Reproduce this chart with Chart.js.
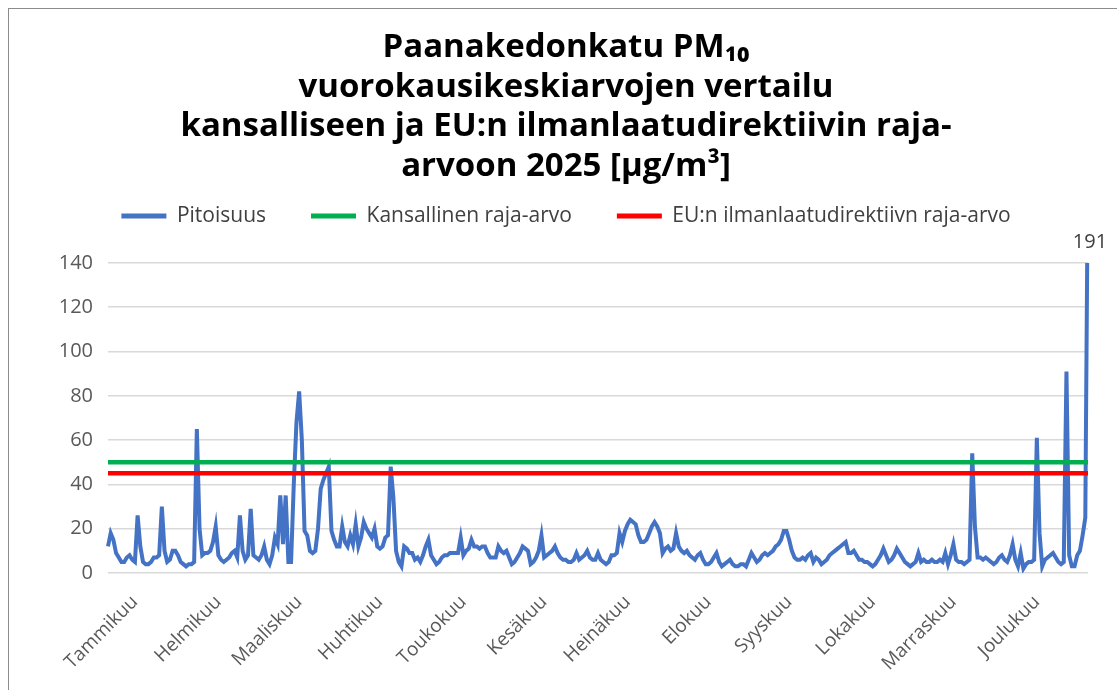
<!DOCTYPE html>
<html lang="fi">
<head>
<meta charset="UTF-8">
<title>Paanakedonkatu PM10 2025</title>
<style>
  html, body { margin: 0; padding: 0; background: #fff; overflow: hidden; }
  #wrap { position: relative; width: 1117px; height: 690px; }
  #frame { position: absolute; left: 8px; top: 8px; right: -10px; bottom: -10px; border: 1px solid #8c8c8c; }
  canvas { position: absolute; left: 0; top: 0; }
</style>
</head>
<body>
<div id="wrap">
  <div id="frame"></div>
  <canvas id="pm10Chart"></canvas>
</div>

<script src="https://cdn.jsdelivr.net/npm/chart.js"></script>
<script>
  // Kuukausien nimet ja päivä (0 = 1.1.) jonka kohdalle nimi piirretään
  const months = ['Tammikuu', 'Helmikuu', 'Maaliskuu', 'Huhtikuu', 'Toukokuu', 'Kesäkuu',
                  'Heinäkuu', 'Elokuu', 'Syyskuu', 'Lokakuu', 'Marraskuu', 'Joulukuu'];
  const monthLabelDays = [10, 41, 71, 101, 132, 162, 193, 223, 253, 284, 314, 345];

  // PM10 vuorokausikeskiarvot 2025 (µg/m³), luettu kuvasta kuukausittain
  const pitoisuus = [
    12,18,15,9,7,5,5,7,8,6,5,26,12,5,4,4,5,7,7,8,30,10,5,6,10,10,8,5,4,3,4,
    4,5,65,20,8,9,9,10,14,21,8,6,5,6,7,9,10,7,26,10,6,8,29,8,7,6,8,12,
    6,4,8,16,13,35,13,35,5,5,40,68,82,60,19,17,10,9,10,20,38,42,45,48,19,15,12,12,21,14,12,
    17,13,22,12,16,23,20,18,16,20,12,11,12,16,17,48,34,10,5,3,12,11,9,9,6,7,5,8,12,15,
    8,6,4,5,7,8,8,9,9,9,9,16,8,10,11,15,12,12,11,12,12,9,7,7,7,12,10,9,10,7,4,
    5,7,9,12,11,10,4,5,7,10,17,7,8,9,10,12,9,7,6,6,5,5,6,9,6,7,8,10,7,6,
    6,9,6,5,4,5,8,8,9,18,14,19,22,24,23,22,17,14,14,15,18,21,23,21,18,9,11,12,10,11,18,
    12,10,9,10,8,7,6,8,9,6,4,4,5,7,9,5,3,4,5,6,4,3,3,4,4,3,6,9,7,5,6,
    8,9,8,9,10,12,13,15,19,19,15,10,7,6,6,7,6,8,9,5,7,6,4,5,6,8,9,10,11,12,
    13,14,9,9,10,8,6,6,5,5,4,3,4,6,8,11,8,5,6,8,11,9,7,5,4,3,4,5,9,5,6,
    5,5,6,5,5,6,5,9,4,8,13,6,5,5,4,5,6,54,21,7,7,6,7,6,5,4,5,7,8,6,
    5,8,13,6,3,9,2,4,5,5,6,61,18,3,6,7,8,9,7,5,4,5,91,8,3,3,8,10,17,25,191
  ];

  const kansallinenRaja = 50;
  const euRaja = 45;

  const seriesNames = ['Pitoisuus', 'Kansallinen raja-arvo', 'EU:n ilmanlaatudirektiivn raja-arvo'];
  const titleLines = ['Paanakedonkatu PM₁₀', 'vuorokausikeskiarvojen vertailu',
                      'kansalliseen ja EU:n ilmanlaatudirektiivin raja-', 'arvoon 2025 [µg/m³]'];
  const yMin = 0, yMax = 140, yStep = 20;

  const dayLabels = pitoisuus.map((v, i) => {
    const m = monthLabelDays.indexOf(i);
    return m >= 0 ? months[m] : '';
  });

  // arvo joka menee akselin yli kirjoitetaan viivan yläpäähän
  const overflowLabel = {
    id: 'overflowLabel',
    afterDatasetsDraw(chart) {
      const meta = chart.getDatasetMeta(0);
      const ctx = chart.ctx;
      ctx.save();
      ctx.font = '20px "Open Sans", sans-serif';
      ctx.fillStyle = '#404040';
      ctx.textAlign = 'center';
      ctx.textBaseline = 'middle';
      pitoisuus.forEach((v, i) => {
        if (v > yMax) {
          ctx.fillText(String(v), meta.data[i].x + 2, chart.chartArea.top - 21);
        }
      });
      ctx.restore();
    }
  };

  Chart.defaults.font.family = '"Open Sans", sans-serif';

  new Chart(document.getElementById('pm10Chart'), {
    type: 'line',
    data: {
      labels: dayLabels,
      datasets: [
        {
          label: seriesNames[0],
          data: pitoisuus,
          borderColor: '#4472C4',
          backgroundColor: '#4472C4',
          borderWidth: 4,
          pointRadius: 0,
          tension: 0,
          order: 3
        },
        {
          label: seriesNames[1],
          data: pitoisuus.map(() => kansallinenRaja),
          borderColor: '#00B050',
          backgroundColor: '#00B050',
          borderWidth: 4.5,
          pointRadius: 0,
          order: 2
        },
        {
          label: seriesNames[2],
          data: pitoisuus.map(() => euRaja),
          borderColor: '#FF0000',
          backgroundColor: '#FF0000',
          borderWidth: 4.5,
          pointRadius: 0,
          order: 1
        }
      ]
    },
    options: {
      responsive: true,
      maintainAspectRatio: false,
      animation: false,
      layout: { padding: { top: 0, left: 44, right: 29, bottom: 0 } },
      plugins: {
        title: {
          display: true,
          text: titleLines,
          color: '#000',
          font: { size: 33, weight: 'bold', lineHeight: 1.2 },
          padding: { top: 28, bottom: -26 }
        },
        subtitle: {
          display: true,
          text: '',
          weight: 500,
          font: { size: 1, lineHeight: 1 },
          padding: { top: 0, bottom: 25.5 }
        },
        legend: {
          labels: {
            boxWidth: 45,
            boxHeight: 5,
            padding: 45,
            color: '#404040',
            font: { size: 21 },
            sort: (a, b) => a.datasetIndex - b.datasetIndex,
            generateLabels(chart) {
              const items = Chart.defaults.plugins.legend.labels.generateLabels(chart);
              items.forEach(it => { it.lineWidth = 0; it.fillStyle = it.strokeStyle; });
              return items;
            }
          }
        },
        tooltip: { enabled: false }
      },
      scales: {
        x: {
          grid: { display: false },
          border: { display: false },
          ticks: {
            autoSkip: false,
            minRotation: 45,
            maxRotation: 45,
            padding: 10,
            color: '#595959',
            font: { size: 19 }
          },
          afterFit(scale) { scale.height = 117; }
        },
        y: {
          min: yMin,
          max: yMax,
          grid: { color: '#d9d9d9', lineWidth: 1.5, drawTicks: false },
          border: { display: false },
          ticks: {
            stepSize: yStep,
            padding: 15,
            color: '#595959',
            font: { size: 20 }
          },
          afterFit(scale) { scale.width = 64; }
        }
      }
    },
    plugins: [overflowLabel]
  });
</script>
</body>
</html>
